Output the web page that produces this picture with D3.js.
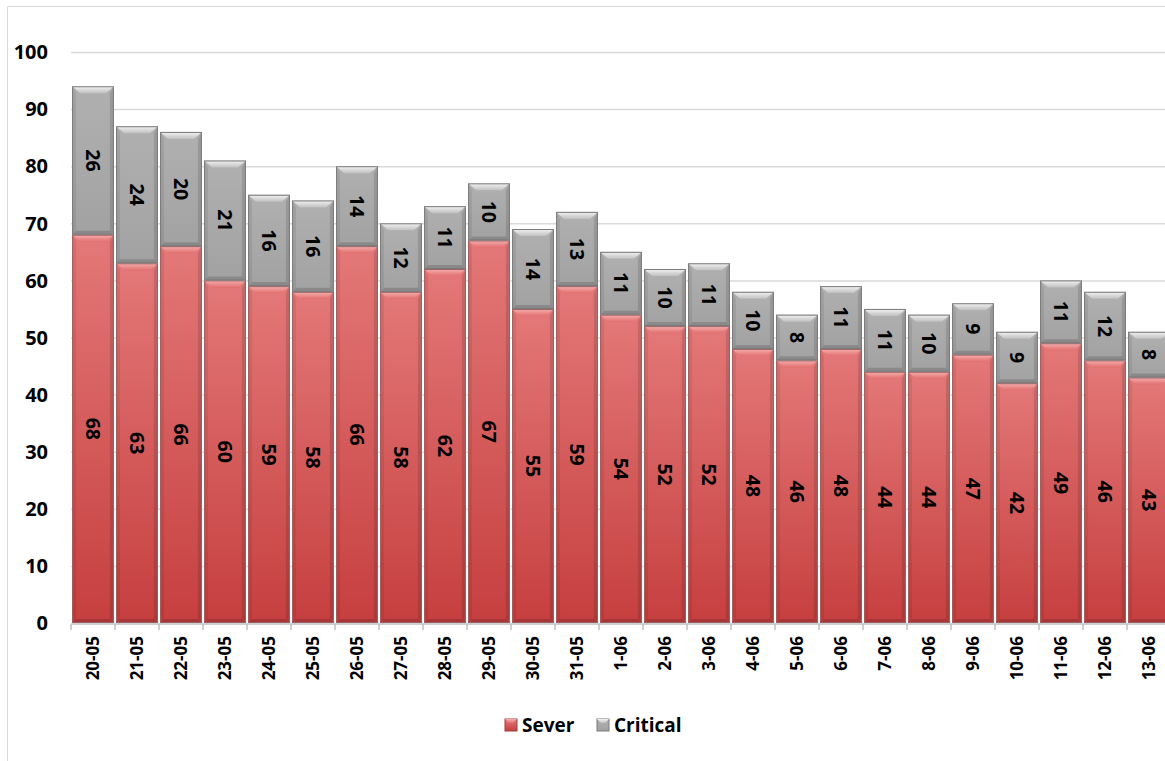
<!DOCTYPE html>
<html>
<head>
<meta charset="utf-8">
<script src="https://cdn.jsdelivr.net/npm/d3@7"></script>
<style>
  body { margin: 0; background: #fff; }
  text { font-family: "Open Sans", "Liberation Sans", sans-serif; font-weight: bold; fill: #000; }
</style>
</head>
<body>
<div id="chart"></div>
<script>
const dates = ["20-05","21-05","22-05","23-05","24-05","25-05","26-05","27-05","28-05","29-05","30-05","31-05",
  "1-06","2-06","3-06","4-06","5-06","6-06","7-06","8-06","9-06","10-06","11-06","12-06","13-06"];
const sever = [68,63,66,60,59,58,66,58,62,67,55,59,54,52,52,48,46,48,44,44,47,42,49,46,43];
const critical = [26,24,20,21,16,16,14,12,11,10,14,13,11,10,11,10,8,11,11,10,9,9,11,12,8];
const yTicks = [0,10,20,30,40,50,60,70,80,90,100];
const seriesNames = ["Sever","Critical"];

const W = 1165, H = 761;
const svg = d3.select("#chart").append("svg").attr("width", W).attr("height", H);

// gradients
const defs = svg.append("defs");
function grad(id, stops, vertical) {
  const g = defs.append("linearGradient").attr("id", id)
    .attr("x1", 0).attr("y1", 0).attr("x2", vertical ? 0 : 1).attr("y2", vertical ? 1 : 0);
  stops.forEach(s => g.append("stop").attr("offset", s[0]).attr("stop-color", s[1]));
}
grad("g-Sever", [[0, "#e47878"], [1, "#c63f3f"]], true);
grad("g-Critical", [[0, "#b0b0b0"], [1, "#a2a2a2"]], true);
grad("top-Sever", [[0, "#f6b0b0"], [1, "#e37070"]], true);
grad("top-Critical", [[0, "#f4f4f4"], [1, "#c0c0c0"]], true);

// frame
svg.append("path").attr("d", `M7.5,${H} V6.5 H${W}`).attr("fill", "none").attr("stroke", "#d9d9d9");

const x = d3.scaleBand().domain(dates).range([71, 71 + 25 * 44]).paddingInner(0.05).paddingOuter(0.025);
const y = d3.scaleLinear().domain([0, 100]).range([623, 52]);

// gridlines
svg.append("g").selectAll("line").data(yTicks.slice(1)).join("line")
  .attr("x1", 71).attr("x2", W).attr("y1", d => y(d) + 0.5).attr("y2", d => y(d) + 0.5)
  .attr("stroke", "#d9d9d9").attr("stroke-width", 1.5);

// y labels
svg.append("g").selectAll("text").data(yTicks).join("text")
  .attr("x", 48).attr("y", d => y(d)).attr("dy", "0.36em")
  .attr("text-anchor", "end").attr("font-size", 20).text(d => d);

const table = dates.map((d, i) => ({date: d, Sever: sever[i], Critical: critical[i]}));
const stack = d3.stack().keys(seriesNames)(table);

const bw = x.bandwidth();
const bev = 7, side = 4;
const layers = svg.append("g").selectAll("g").data(stack).join("g");
const segs = layers.selectAll("g").data(s => s.map(p => ({key: s.key, p}))).join("g")
  .attr("transform", d => `translate(${x(d.p.data.date)},${y(d.p[1])})`);

segs.each(function(d) {
  const g = d3.select(this);
  const h = y(d.p[0]) - y(d.p[1]);
  g.append("rect").attr("width", bw).attr("height", h).attr("fill", `url(#g-${d.key})`);
  // side bevels
  g.append("path").attr("d", `M0,0 L${side},${bev} L${side},${h - side} L0,${h} Z`)
    .attr("fill", "#000").attr("opacity", 0.07);
  g.append("path").attr("d", `M${bw},0 L${bw - side},${bev} L${bw - side},${h - side} L${bw},${h} Z`)
    .attr("fill", "#000").attr("opacity", 0.12);
  g.append("path").attr("d", `M0,${h} L${side},${h - side} L${bw - side},${h - side} L${bw},${h} Z`)
    .attr("fill", "#000").attr("opacity", 0.15);
  // top bevel
  g.append("path").attr("d", `M0,0 L${bw},0 L${bw - side * 2},${bev} L${side * 2},${bev} Z`)
    .attr("fill", `url(#top-${d.key})`);
  g.append("rect").attr("x", 0.5).attr("y", 0.5).attr("width", bw - 1).attr("height", h - 1)
    .attr("fill", "none").attr("stroke", d.key === "Critical" ? "#7a7a7a" : "#9a6262").attr("stroke-width", 1);
  // value label
  g.append("text").attr("transform", `translate(${bw / 2},${h / 2}) rotate(90)`)
    .attr("text-anchor", "middle").attr("dy", "0.36em").attr("font-size", 19.5)
    .text(d.p[1] - d.p[0]);
});

// x axis
const axisG = svg.append("g");
axisG.append("line").attr("x1", 71).attr("x2", W).attr("y1", 624).attr("y2", 624)
  .attr("stroke", "#bfbfbf").attr("stroke-width", 1.5);
axisG.selectAll("line.tick").data(d3.range(26)).join("line").attr("class", "tick")
  .attr("x1", i => 71 + i * x.step()).attr("x2", i => 71 + i * x.step())
  .attr("y1", 624).attr("y2", 630).attr("stroke", "#bfbfbf").attr("stroke-width", 1.5);
axisG.selectAll("text").data(dates).join("text")
  .attr("transform", d => `translate(${x(d) + bw / 2},636) rotate(-90)`)
  .attr("text-anchor", "end").attr("dy", "0.36em").attr("font-size", 17).text(d => d);

// legend
const legend = svg.append("g");
const legendItems = [{name: "Sever", x: 505}, {name: "Critical", x: 597}];
legendItems.forEach(it => {
  const g = legend.append("g").attr("transform", `translate(${it.x},719)`);
  g.append("rect").attr("width", 12).attr("height", 12).attr("fill", `url(#g-${it.name})`)
    .attr("stroke", it.name === "Critical" ? "#7a7a7a" : "#9a4040");
  g.append("path").attr("d", "M0,0 L12,0 L8,4 L4,4 Z").attr("fill", `url(#top-${it.name})`);
  g.append("text").attr("x", 17).attr("y", 6).attr("dy", "0.36em").attr("font-size", 19).text(it.name);
});
</script>
</body>
</html>
